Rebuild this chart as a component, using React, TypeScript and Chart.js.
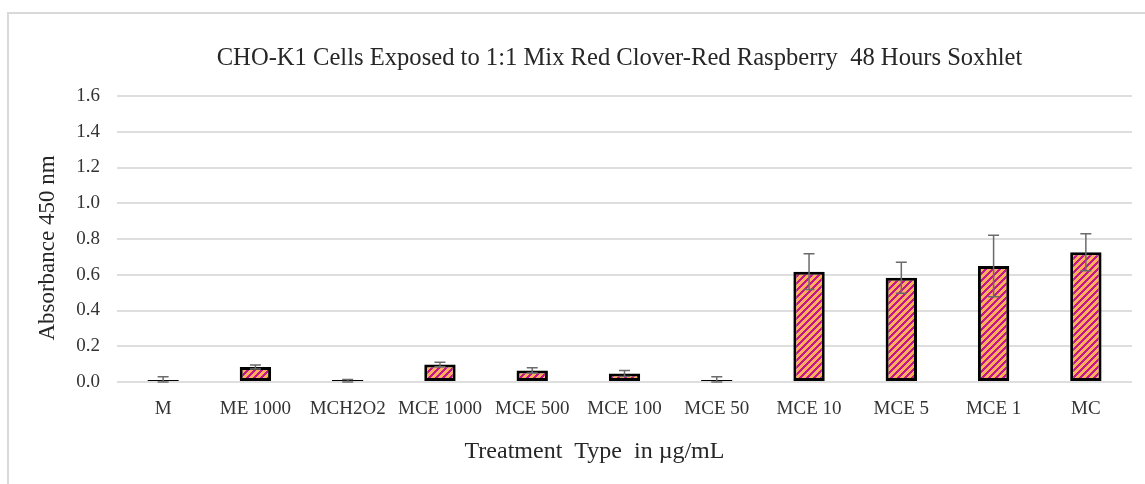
import React, { useEffect, useRef } from "react";
import { Chart, registerables } from "chart.js";

Chart.register(...registerables);

const categories = ["M", "ME 1000", "MCH2O2", "MCE 1000", "MCE 500", "MCE 100", "MCE 50", "MCE 10", "MCE 5", "MCE 1", "MC"];
const absorbance = [0.005, 0.084, 0.006, 0.098, 0.065, 0.048, 0.009, 0.617, 0.583, 0.649, 0.726];
const errors = [0.025, 0.011, 0.008, 0.012, 0.015, 0.017, 0.02, 0.1, 0.087, 0.172, 0.104];
const yTicks = [0, 0.2, 0.4, 0.6, 0.8, 1.0, 1.2, 1.4, 1.6];

const titleText = "CHO-K1 Cells Exposed to 1:1 Mix Red Clover-Red Raspberry  48 Hours Soxhlet";
const xTitle = "Treatment  Type  in µg/mL";
const yTitle = "Absorbance 450 nm";

const FONT = '"Liberation Serif", "Times New Roman", serif';

function makePattern(): CanvasPattern | string {
  const s = 7;
  const w = 3;
  const c = document.createElement("canvas");
  c.width = s;
  c.height = s;
  const ctx = c.getContext("2d");
  if (!ctx) return "#FFAE5E";
  const img = ctx.createImageData(s, s);
  const orange = [255, 174, 94];
  const magenta = [196, 22, 138];
  for (let y = 0; y < s; y++) {
    for (let x = 0; x < s; x++) {
      const col = (x + y) % s < w ? magenta : orange;
      const o = (y * s + x) * 4;
      img.data[o] = col[0];
      img.data[o + 1] = col[1];
      img.data[o + 2] = col[2];
      img.data[o + 3] = 255;
    }
  }
  ctx.putImageData(img, 0, 0);
  const p = ctx.createPattern(c, "repeat");
  return p || "#FFAE5E";
}

const errorBarPlugin = {
  id: "errorBars",
  afterDatasetsDraw(chart: any) {
    const ctx = chart.ctx;
    const meta = chart.getDatasetMeta(0);
    const y = chart.scales.y;
    ctx.save();
    ctx.strokeStyle = "#6b6b6b";
    ctx.lineWidth = 1.5;
    meta.data.forEach((bar: any, i: number) => {
      const v = absorbance[i];
      const e = errors[i];
      const yTop = y.getPixelForValue(v + e);
      const yBot = y.getPixelForValue(Math.max(0, v - e));
      const x = bar.x;
      const half = 5.5;
      ctx.beginPath();
      ctx.moveTo(x, yTop);
      ctx.lineTo(x, yBot);
      ctx.moveTo(x - half, yTop);
      ctx.lineTo(x + half, yTop);
      ctx.moveTo(x - half, yBot);
      ctx.lineTo(x + half, yBot);
      ctx.stroke();
    });
    ctx.restore();
  },
};

const titlesPlugin = {
  id: "titlesText",
  afterDraw(chart: any) {
    const ctx = chart.ctx;
    const area = chart.chartArea;
    const cx = (area.left + area.right) / 2;
    ctx.save();
    ctx.fillStyle = "#262626";
    ctx.textAlign = "center";
    ctx.textBaseline = "middle";
    ctx.font = `24.6px ${FONT}`;
    ctx.fillText(titleText, cx - 5, 59);
    ctx.font = `24px ${FONT}`;
    ctx.fillText(xTitle, cx - 30, 452);
    ctx.translate(48, 248);
    ctx.rotate(-Math.PI / 2);
    ctx.font = `23px ${FONT}`;
    ctx.fillText(yTitle, 0, 0);
    ctx.restore();
  },
};

export default function App() {
  const ref = useRef<HTMLCanvasElement | null>(null);

  useEffect(() => {
    if (!ref.current) return;
    const pattern = makePattern();
    const chart = new Chart(ref.current, {
      type: "bar",
      data: {
        labels: categories,
        datasets: [
          {
            data: absorbance,
            backgroundColor: pattern as any,
            borderColor: "#000000",
            borderWidth: 3,
            borderSkipped: false,
            minBarLength: 2,
            barPercentage: 0.34,
            categoryPercentage: 1,
          },
        ],
      },
      options: {
        responsive: false,
        animation: false,
        devicePixelRatio: 1,
        layout: { padding: { top: 96, left: 0, right: 13, bottom: 0 } },
        plugins: {
          legend: { display: false },
          tooltip: { enabled: false },
          title: { display: false },
        },
        scales: {
          x: {
            grid: { display: false, drawTicks: false },
            border: { display: false },
            ticks: {
              font: { family: FONT, size: 19 },
              color: "#333333",
              padding: 16,
              maxRotation: 0,
              autoSkip: false,
            },
            afterFit(scale: any) {
              scale.height = 102;
            },
          },
          y: {
            min: 0,
            max: 1.6,
            afterBuildTicks(scale: any) {
              scale.ticks = yTicks.map((v) => ({ value: v }));
            },
            grid: { color: "#dedede", lineWidth: 2, drawTicks: false },
            border: { display: false },
            ticks: {
              font: { family: FONT, size: 19 },
              color: "#333333",
              padding: 17,
              callback: (v: any) => Number(v).toFixed(1),
            },
            afterFit(scale: any) {
              scale.width = 117;
            },
          },
        },
      },
      plugins: [errorBarPlugin, titlesPlugin],
    });
    return () => chart.destroy();
  }, []);

  return (
    <div style={{ position: "fixed", left: 0, top: 0, width: 1145, height: 484, background: "#ffffff" }}>
      <div
        style={{
          position: "absolute",
          left: 7,
          top: 12,
          width: 1145 - 7,
          height: 484 - 12,
          borderLeft: "2px solid #d9d9d9",
          borderTop: "2px solid #d9d9d9",
          boxSizing: "border-box",
        }}
      />
      <canvas ref={ref} width={1145} height={484} style={{ position: "absolute", left: 0, top: 0 }} />
    </div>
  );
}
